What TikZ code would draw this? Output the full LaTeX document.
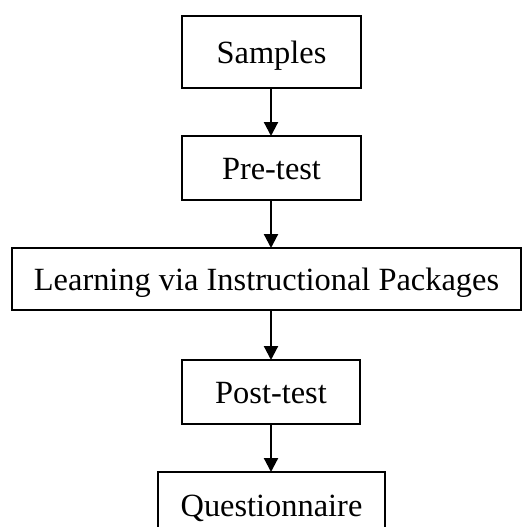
\documentclass[tikz,border=0pt]{standalone}
\usepackage{fontspec}
\setmainfont{Liberation Serif}
\usetikzlibrary{arrows.meta}
\begin{document}
\begin{tikzpicture}[x=1pt,y=-1pt,
  stagebox/.style={draw=black, line width=2.2pt, inner sep=0pt, outer sep=0pt,
    font=\fontsize{32.4}{38}\selectfont, text height=23pt, text depth=0pt, align=center},
  flowarrow/.style={line width=2.2pt, -{Triangle[width=14pt,length=14pt]}}]
\useasboundingbox (0,0) rectangle (523,527);
\clip (0,0) rectangle (523,527);
\fill[white] (0,0) rectangle (523,527);
\node[stagebox, minimum width=179pt, minimum height=72pt] (samples) at (271.5,52) {Samples};
\node[stagebox, minimum width=179pt, minimum height=64pt] (pretest) at (271.5,168) {Pre-test};
\node[stagebox, minimum width=509pt, minimum height=62pt] (learning) at (266.5,279) {Learning via Instructional Packages};
\node[stagebox, minimum width=178pt, minimum height=64pt] (posttest) at (271,392) {Post-test};
\node[stagebox, minimum width=227pt, minimum height=66pt] (quest) at (271.5,505) {Questionnaire};
\draw[flowarrow] (samples.south -| 271,0) -- (pretest.north -| 271,0);
\draw[flowarrow] (pretest.south -| 271,0) -- (learning.north -| 271,0);
\draw[flowarrow] (learning.south -| 271,0) -- (posttest.north -| 271,0);
\draw[flowarrow] (posttest.south -| 271,0) -- (quest.north -| 271,0);
\end{tikzpicture}
\end{document}
